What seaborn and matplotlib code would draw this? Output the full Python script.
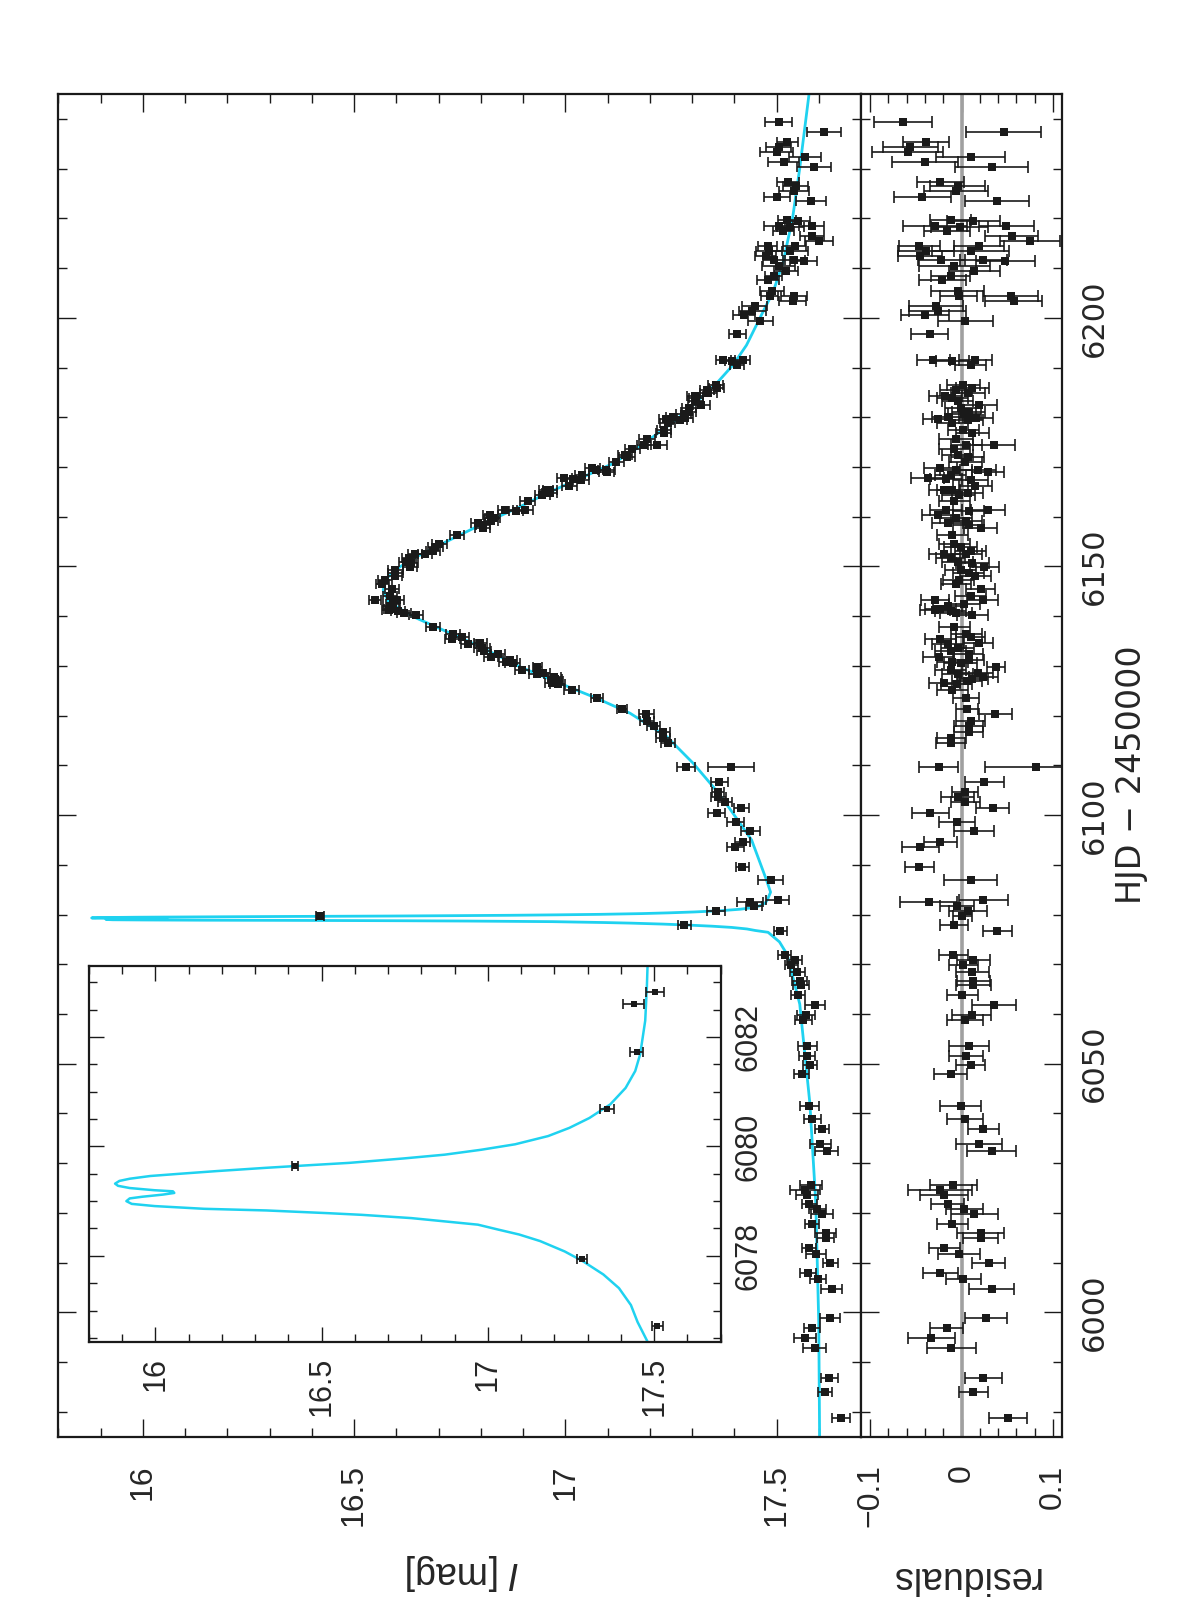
import numpy as np
import pandas as pd
import matplotlib
matplotlib.use("Agg")
import matplotlib.pyplot as plt
import seaborn as sns
from matplotlib.ticker import MultipleLocator, FuncFormatter

# photometry (HJD - 2450000, I mag, error, residual from model)
hjd = [6239.4, 6237.4, 6235.4, 6234.4, 6233.4, 6232.4, 6231.4, 6230.4, 6227.4, 6226.5,
       6225.5, 6224.3, 6223.5, 6219.6, 6219.4, 6218.4, 6217.5, 6218.3, 6218.5, 6216.4,
       6215.5, 6214.5, 6214.4, 6213.5, 6213.4, 6212.5, 6211.6, 6211.7, 6211.5, 6210.5,
       6209.5, 6208.5, 6207.5, 6205.4, 6204.4, 6204.3, 6203.4, 6202.4, 6201.4, 6200.5,
       6199.4, 6196.7, 6191.5, 6191.4, 6191.6, 6190.5, 6186.5, 6185.5, 6184.8, 6183.8,
       6182.5, 6181.8, 6181.1, 6179.6, 6180.1, 6179.5, 6179.8, 6175.6, 6174.5, 6174.4,
       6172.4, 6172.1, 6169.7, 6169.4, 6169.3, 6169.0, 6167.7, 6167.6, 6167.4, 6165.4,
       6165.3, 6164.4, 6164.7, 6161.3, 6161.2, 6161.4, 6160.3, 6159.7, 6158.3, 6157.7,
       6158.7, 6154.6, 6153.9, 6152.6, 6152.5, 6150.9, 6150.6, 6149.9, 6149.2, 6148.6,
       6147.2, 6145.4, 6143.3, 6143.2, 6142.5, 6141.3, 6141.1, 6141.4, 6140.7, 6136.5,
       6135.5, 6134.6, 6134.4, 6133.5, 6131.7, 6132.4, 6130.8, 6130.5, 6129.7, 6128.3,
       6128.5, 6127.8, 6127.3, 6126.5, 6126.4, 6123.6, 6121.4, 6120.4, 6118.9, 6117.9,
       6116.7, 6115.6, 6114.5, 6109.7, 6109.6, 6106.7, 6104.7, 6103.7, 6102.7, 6101.5,
       6100.4, 6098.6, 6096.8, 6094.6, 6093.5, 6089.6, 6086.9, 6082.61, 6082.83, 6081.72,
       6080.68, 6079.64, 6077.94, 6076.71, 6071.8, 6070.8, 6069.8, 6068.5, 6066.7, 6065.8,
       6063.8, 6061.8, 6059.7, 6058.7, 6053.6, 6051.6, 6049.7, 6047.9, 6041.6, 6038.8,
       6036.8, 6033.9, 6032.5, 6025.7, 6024.6, 6023.6, 6021.8, 6020.7, 6019.7, 6017.8,
       6016.0, 6014.9, 6012.9, 6011.7, 6009.9, 6007.9, 6006.7, 6004.7, 5998.8, 5996.8,
       5994.8, 5992.8, 5986.9, 5983.9, 5978.8,
       6185.9, 6183.2, 6180.6, 6178.8, 6176.9, 6173.6, 6170.9, 6168.3, 6166.2, 6163.1,
       6159.1, 6156.4, 6153.2, 6151.6, 6148.0, 6146.4, 6144.1, 6142.0, 6140.2, 6137.8,
       6135.9, 6133.0, 6131.2, 6129.2, 6127.0, 6125.2, 6184.2, 6177.5]

mag = [17.505, 17.612, 17.525, 17.505, 17.501, 17.568, 17.517, 17.588, 17.527, 17.545,
       17.541, 17.502, 17.582, 17.525, 17.550, 17.505, 17.516, 17.533, 17.583, 17.584,
       17.601, 17.479, 17.543, 17.483, 17.532, 17.474, 17.495, 17.541, 17.565, 17.505,
       17.523, 17.493, 17.480, 17.489, 17.484, 17.541, 17.538, 17.448, 17.443, 17.424,
       17.462, 17.407, 17.374, 17.395, 17.420, 17.407, 17.356, 17.335, 17.339, 17.310,
       17.322, 17.293, 17.292, 17.238, 17.256, 17.271, 17.283, 17.194, 17.187, 17.218,
       17.141, 17.146, 17.064, 17.073, 17.097, 17.098, 16.998, 17.018, 17.037, 16.955,
       16.964, 16.946, 16.963, 16.858, 16.883, 16.904, 16.823, 16.828, 16.806, 16.805,
       16.793, 16.702, 16.692, 16.644, 16.668, 16.624, 16.634, 16.633, 16.598, 16.598,
       16.573, 16.590, 16.550, 16.602, 16.592, 16.583, 16.604, 16.589, 16.618, 16.735,
       16.733, 16.799, 16.770, 16.803, 16.824, 16.841, 16.860, 16.876, 16.934, 16.932,
       16.948, 16.974, 16.976, 16.968, 16.982, 17.076, 17.135, 17.192, 17.193, 17.209,
       17.231, 17.231, 17.243, 17.285, 17.392, 17.365, 17.362, 17.362, 17.378, 17.417,
       17.358, 17.403, 17.438, 17.420, 17.402, 17.419, 17.486, 17.438, 17.503, 17.447,
       17.357, 16.420, 17.282, 17.509, 17.519, 17.543, 17.535, 17.549, 17.555, 17.557,
       17.551, 17.591, 17.569, 17.563, 17.573, 17.572, 17.579, 17.560, 17.578, 17.585,
       17.607, 17.604, 17.619, 17.581, 17.567, 17.573, 17.578, 17.596, 17.608, 17.584,
       17.616, 17.616, 17.577, 17.593, 17.627, 17.574, 17.599, 17.631, 17.627, 17.584,
       17.567, 17.590, 17.625, 17.615, 17.653,
       17.358, 17.308, 17.280, 17.242, 17.233, 17.159, 17.121, 17.039, 17.010, 16.911,
       16.824, 16.743, 16.687, 16.630, 16.597, 16.567, 16.585, 16.584, 16.646, 16.687,
       16.755, 16.807, 16.869, 16.898, 16.979, 17.015, 17.307, 17.233]

mag_err = [0.032, 0.041, 0.025, 0.030, 0.039, 0.038, 0.036, 0.040, 0.026, 0.030,
           0.035, 0.031, 0.035, 0.022, 0.029, 0.035, 0.025, 0.031, 0.030, 0.029,
           0.033, 0.022, 0.027, 0.031, 0.042, 0.024, 0.026, 0.026, 0.032, 0.039,
           0.028, 0.021, 0.026, 0.029, 0.020, 0.030, 0.031, 0.030, 0.031, 0.026,
           0.030, 0.020, 0.018, 0.018, 0.018, 0.017, 0.018, 0.017, 0.019, 0.017,
           0.020, 0.017, 0.018, 0.016, 0.017, 0.017, 0.019, 0.019, 0.017, 0.023,
           0.017, 0.018, 0.018, 0.017, 0.020, 0.018, 0.018, 0.017, 0.019, 0.017,
           0.017, 0.018, 0.017, 0.018, 0.017, 0.019, 0.017, 0.018, 0.017, 0.018,
           0.017, 0.017, 0.018, 0.017, 0.017, 0.017, 0.018, 0.016, 0.017, 0.017,
           0.017, 0.016, 0.015, 0.017, 0.017, 0.016, 0.017, 0.017, 0.017, 0.017,
           0.017, 0.016, 0.017, 0.018, 0.017, 0.016, 0.017, 0.018, 0.010, 0.017,
           0.017, 0.016, 0.017, 0.017, 0.017, 0.014, 0.012, 0.018, 0.016, 0.016,
           0.016, 0.016, 0.016, 0.021, 0.055, 0.021, 0.014, 0.018, 0.016, 0.018,
           0.020, 0.020, 0.022, 0.018, 0.020, 0.016, 0.029, 0.031, 0.027, 0.019,
           0.021, 0.010, 0.015, 0.016, 0.016, 0.018, 0.016, 0.018, 0.018, 0.019,
           0.017, 0.024, 0.021, 0.020, 0.022, 0.019, 0.016, 0.018, 0.022, 0.020,
           0.017, 0.025, 0.027, 0.026, 0.035, 0.026, 0.018, 0.020, 0.026, 0.017,
           0.026, 0.019, 0.017, 0.023, 0.018, 0.019, 0.019, 0.025, 0.023, 0.018,
           0.026, 0.027, 0.020, 0.016, 0.021,
           0.018, 0.017, 0.018, 0.017, 0.018, 0.017, 0.018, 0.017, 0.018, 0.017,
           0.017, 0.017, 0.017, 0.016, 0.017, 0.016, 0.017, 0.016, 0.017, 0.017,
           0.016, 0.017, 0.017, 0.017, 0.016, 0.017, 0.018, 0.017]

resid = [-0.064, 0.046, -0.039, -0.056, -0.059, 0.010, -0.040, 0.033, -0.023, -0.004,
         -0.006, -0.043, 0.039, -0.012, 0.013, -0.029, -0.016, -0.002, 0.049, 0.055,
         0.075, -0.046, 0.019, -0.039, 0.010, -0.045, -0.022, 0.024, 0.048, -0.008,
         0.014, -0.012, -0.021, -0.004, -0.003, 0.054, 0.057, -0.028, -0.026, -0.040,
         0.004, -0.035, -0.031, -0.010, 0.015, 0.010, 0.002, -0.006, 0.007, -0.010,
         0.019, -0.001, 0.008, -0.026, -0.015, 0.007, 0.016, -0.006, 0.005, 0.036,
         -0.004, 0.007, -0.023, -0.006, 0.018, 0.029, -0.037, -0.017, 0.010, -0.019,
         -0.010, -0.003, 0.007, -0.017, 0.008, 0.029, -0.026, -0.006, 0.008, 0.021,
         -0.015, -0.008, -0.001, -0.019, 0.005, -0.004, 0.012, 0.025, -0.001, 0.008,
         -0.003, 0.021, -0.029, 0.023, 0.003, -0.029, -0.012, -0.023, -0.006, 0.005,
         -0.023, 0.019, -0.015, -0.004, -0.025, 0.008, -0.010, -0.001, 0.038, -0.004,
         0.018, 0.024, 0.012, -0.019, -0.005, 0.005, 0.006, 0.037, 0.010, 0.008,
         0.008, -0.011, -0.012, -0.025, 0.081, 0.025, 0.004, -0.004, 0.004, 0.034,
         -0.034, -0.005, 0.014, -0.023, -0.045, -0.046, 0.010, -0.036, 0.024, -0.005,
         0.007, 0.001, -0.008, 0.039, -0.009, 0.013, 0.002, 0.012, 0.013, 0.013,
         0.001, 0.036, 0.011, 0.004, 0.008, 0.005, 0.010, -0.012, -0.001, 0.004,
         0.024, 0.019, 0.033, -0.009, -0.024, -0.019, -0.015, 0.003, 0.014, -0.010,
         0.021, 0.021, -0.019, -0.003, 0.030, -0.023, 0.002, 0.033, 0.027, -0.016,
         -0.033, -0.011, 0.024, 0.013, 0.051,
         0.012, -0.004, 0.003, -0.010, 0.012, -0.008, 0.004, -0.012, 0.015, -0.008,
         0.005, -0.010, 0.010, -0.012, 0.015, -0.006, 0.010, -0.015, 0.012, -0.008,
         0.010, -0.012, 0.008, -0.012, 0.006, -0.010, -0.018, 0.002]

# binary-lens model curve (dense around the caustic crossing)
model_hjd = [5975, 5998, 6022, 6042, 6062, 6072, 6074.5,
             6076.43, 6076.79, 6077.10, 6077.41, 6077.66, 6077.90, 6078.08, 6078.27, 6078.39, 6078.48,
             6078.57, 6078.63, 6078.69, 6078.75, 6078.78, 6078.83, 6078.86, 6078.91, 6078.95, 6079.00,
             6079.05, 6079.08, 6079.12, 6079.15, 6079.18, 6079.20, 6079.24, 6079.28, 6079.32, 6079.37,
             6079.41, 6079.46, 6079.50, 6079.55, 6079.61, 6079.66, 6079.70, 6079.78, 6079.85, 6079.94,
             6080.04, 6080.19, 6080.34, 6080.52, 6080.77, 6081.07, 6081.38, 6081.69, 6082.30, 6082.92,
             6083.30, 6084.5, 6087, 6095, 6100, 6103, 6105.7, 6110.4, 6115.8, 6120.5,
             6123.5, 6126.5, 6129.8, 6133.9, 6136.9, 6139.9, 6142.9, 6145.3, 6147.6, 6149.9,
             6152.3, 6155.0, 6158.3, 6162.0, 6164.7, 6167.7, 6170.7, 6174.1, 6179.3, 6182.5,
             6186.8, 6190.5, 6194.5, 6201.2, 6205.2, 6211.3, 6220.0, 6230.1, 6245]
model_mag = [17.602, 17.600, 17.593, 17.579, 17.555, 17.525, 17.507,
             17.480, 17.450, 17.430, 17.394, 17.347, 17.286, 17.231, 17.157, 17.094, 17.031,
             16.970, 16.870, 16.770, 16.620, 16.520, 16.334, 16.147, 15.998, 15.929, 15.913,
             15.923, 15.960, 16.023, 16.057, 16.053, 15.997, 15.923, 15.888, 15.879, 15.892,
             15.923, 15.985, 16.072, 16.185, 16.334, 16.470, 16.583, 16.745, 16.870, 16.980,
             17.082, 17.181, 17.245, 17.305, 17.368, 17.414, 17.443, 17.458, 17.473, 17.478,
             17.480, 17.486, 17.476, 17.441, 17.400, 17.375, 17.350, 17.303, 17.240, 17.153,
             17.074, 16.987, 16.893, 16.798, 16.719, 16.640, 16.581, 16.569, 16.577, 16.608,
             16.656, 16.719, 16.798, 16.893, 16.956, 17.035, 17.113, 17.176, 17.260, 17.303,
             17.358, 17.397, 17.429, 17.468, 17.492, 17.516, 17.538, 17.555, 17.577]

CYAN = "#1fd2f0"
GREY = "#a0a0a0"

sns.set_theme(style="ticks")
plt.rcParams["font.family"] = ["Liberation Sans", "DejaVu Sans"]
plt.rcParams["mathtext.fontset"] = "custom"
plt.rcParams["mathtext.it"] = "Liberation Sans:italic"
plt.rcParams["mathtext.rm"] = "Liberation Sans"
plt.rcParams["axes.unicode_minus"] = True
NARROW = ["Liberation Sans Narrow", "DejaVu Sans"]

df = pd.DataFrame({"hjd": hjd, "mag": mag, "err": mag_err, "resid": resid})
model = pd.DataFrame({"hjd": model_hjd, "mag": model_mag})

fig = plt.figure(figsize=(11.96, 16), dpi=100)
ax = fig.add_axes([0.04875, 0.10206, 0.67115, 0.83919])
axr = fig.add_axes([0.71990, 0.10206, 0.16806, 0.83919])
axi = fig.add_axes([0.07425, 0.16144, 0.52835, 0.23481])

fmt_g = FuncFormatter(lambda v, p: f"{v:g}".replace("-", "\u2212"))


def style_axis(a, xmaj, xmin, ymaj, ymin, big, small):
    a.xaxis.set_major_locator(MultipleLocator(xmaj))
    a.xaxis.set_minor_locator(MultipleLocator(xmin))
    a.yaxis.set_major_locator(MultipleLocator(ymaj))
    a.yaxis.set_minor_locator(MultipleLocator(ymin))
    a.tick_params(which="both", direction="in", top=True, bottom=True,
                  left=True, right=True, width=1.0, color="k")
    a.tick_params(which="major", length=big)
    a.tick_params(which="minor", length=small)
    for s in a.spines.values():
        s.set_linewidth(1.6)
        s.set_color("k")
    a.set_xlabel("")
    a.set_ylabel("")


def draw_points(a, d, x, cap, msize):
    a.errorbar(d[x], d["hjd"], xerr=d["err"], fmt="none", ecolor="k",
               elinewidth=1.2, capsize=cap, capthick=1.2, zorder=3)
    sns.scatterplot(data=d, x=x, y="hjd", marker="s", s=msize, color="k",
                    edgecolor="k", linewidth=0, ax=a, zorder=4, legend=False)


# main light curve
sns.lineplot(data=model, x="mag", y="hjd", orient="y", estimator=None,
             color=CYAN, lw=2.0, ax=ax, zorder=2)
draw_points(ax, df, "mag", 3.8, 28)
ax.set_xlim(15.8, 17.7)
ax.set_ylim(5975, 6245)
style_axis(ax, 0.5, 0.1, 50, 10, 13, 6.5)
ax.xaxis.set_major_formatter(fmt_g)
ax.tick_params(axis="x", labelbottom=True, labelrotation=90, labelsize=23, pad=20)
ax.tick_params(axis="y", labelleft=False, labelright=False)

# residuals
axr.axvline(0, color=GREY, lw=2.6, zorder=1)
draw_points(axr, df, "resid", 4.0, 28)
axr.set_xlim(-0.11, 0.11)
axr.set_ylim(5975, 6245)
style_axis(axr, 0.1, 0.02, 50, 10, 13, 6.5)
axr.xaxis.set_major_formatter(fmt_g)
axr.tick_params(axis="x", labelbottom=True, labelrotation=90, labelsize=23, pad=20)
axr.tick_params(axis="y", labelleft=False, labelright=True, labelrotation=90,
                labelsize=22, pad=13)
for lab in axr.get_yticklabels():
    lab.set_family(NARROW)
    lab.set_va("center")

# zoom on the caustic crossing
axi.set_facecolor("white")
inset = df[(df["hjd"] > 6076.43) & (df["hjd"] < 6083.3)]
sns.lineplot(data=model, x="mag", y="hjd", orient="y", estimator=None,
             color=CYAN, lw=1.8, ax=axi, zorder=2)
draw_points(axi, inset, "mag", 3.6, 24)
axi.set_xlim(15.8, 17.7)
axi.set_ylim(6076.43, 6083.3)
style_axis(axi, 0.5, 0.1, 2, 0.5, 10.5, 5.5)
axi.xaxis.set_major_formatter(fmt_g)
axi.tick_params(axis="x", labelbottom=True, labelrotation=90, labelsize=22, pad=11)
axi.tick_params(axis="y", labelleft=False, labelright=True, labelrotation=90,
                labelsize=22, pad=9)
for lab in axi.get_yticklabels():
    lab.set_va("center")

# axis titles (rotated with the rest of the figure)
fig.text(463 / 1196, 1 - 1572 / 1600, "$I$ [mag]", rotation=180,
         ha="center", va="center", fontsize=27)
fig.text(965 / 1196, 1 - 1577 / 1600, "residuals", rotation=180,
         ha="center", va="center", fontsize=27)
fig.text(1131 / 1196, 1 - 775 / 1600, "HJD \u2212 2450000", rotation=90,
         ha="center", va="center", fontsize=24, family=NARROW)

fig.savefig("out.png", dpi=100, facecolor="white")
